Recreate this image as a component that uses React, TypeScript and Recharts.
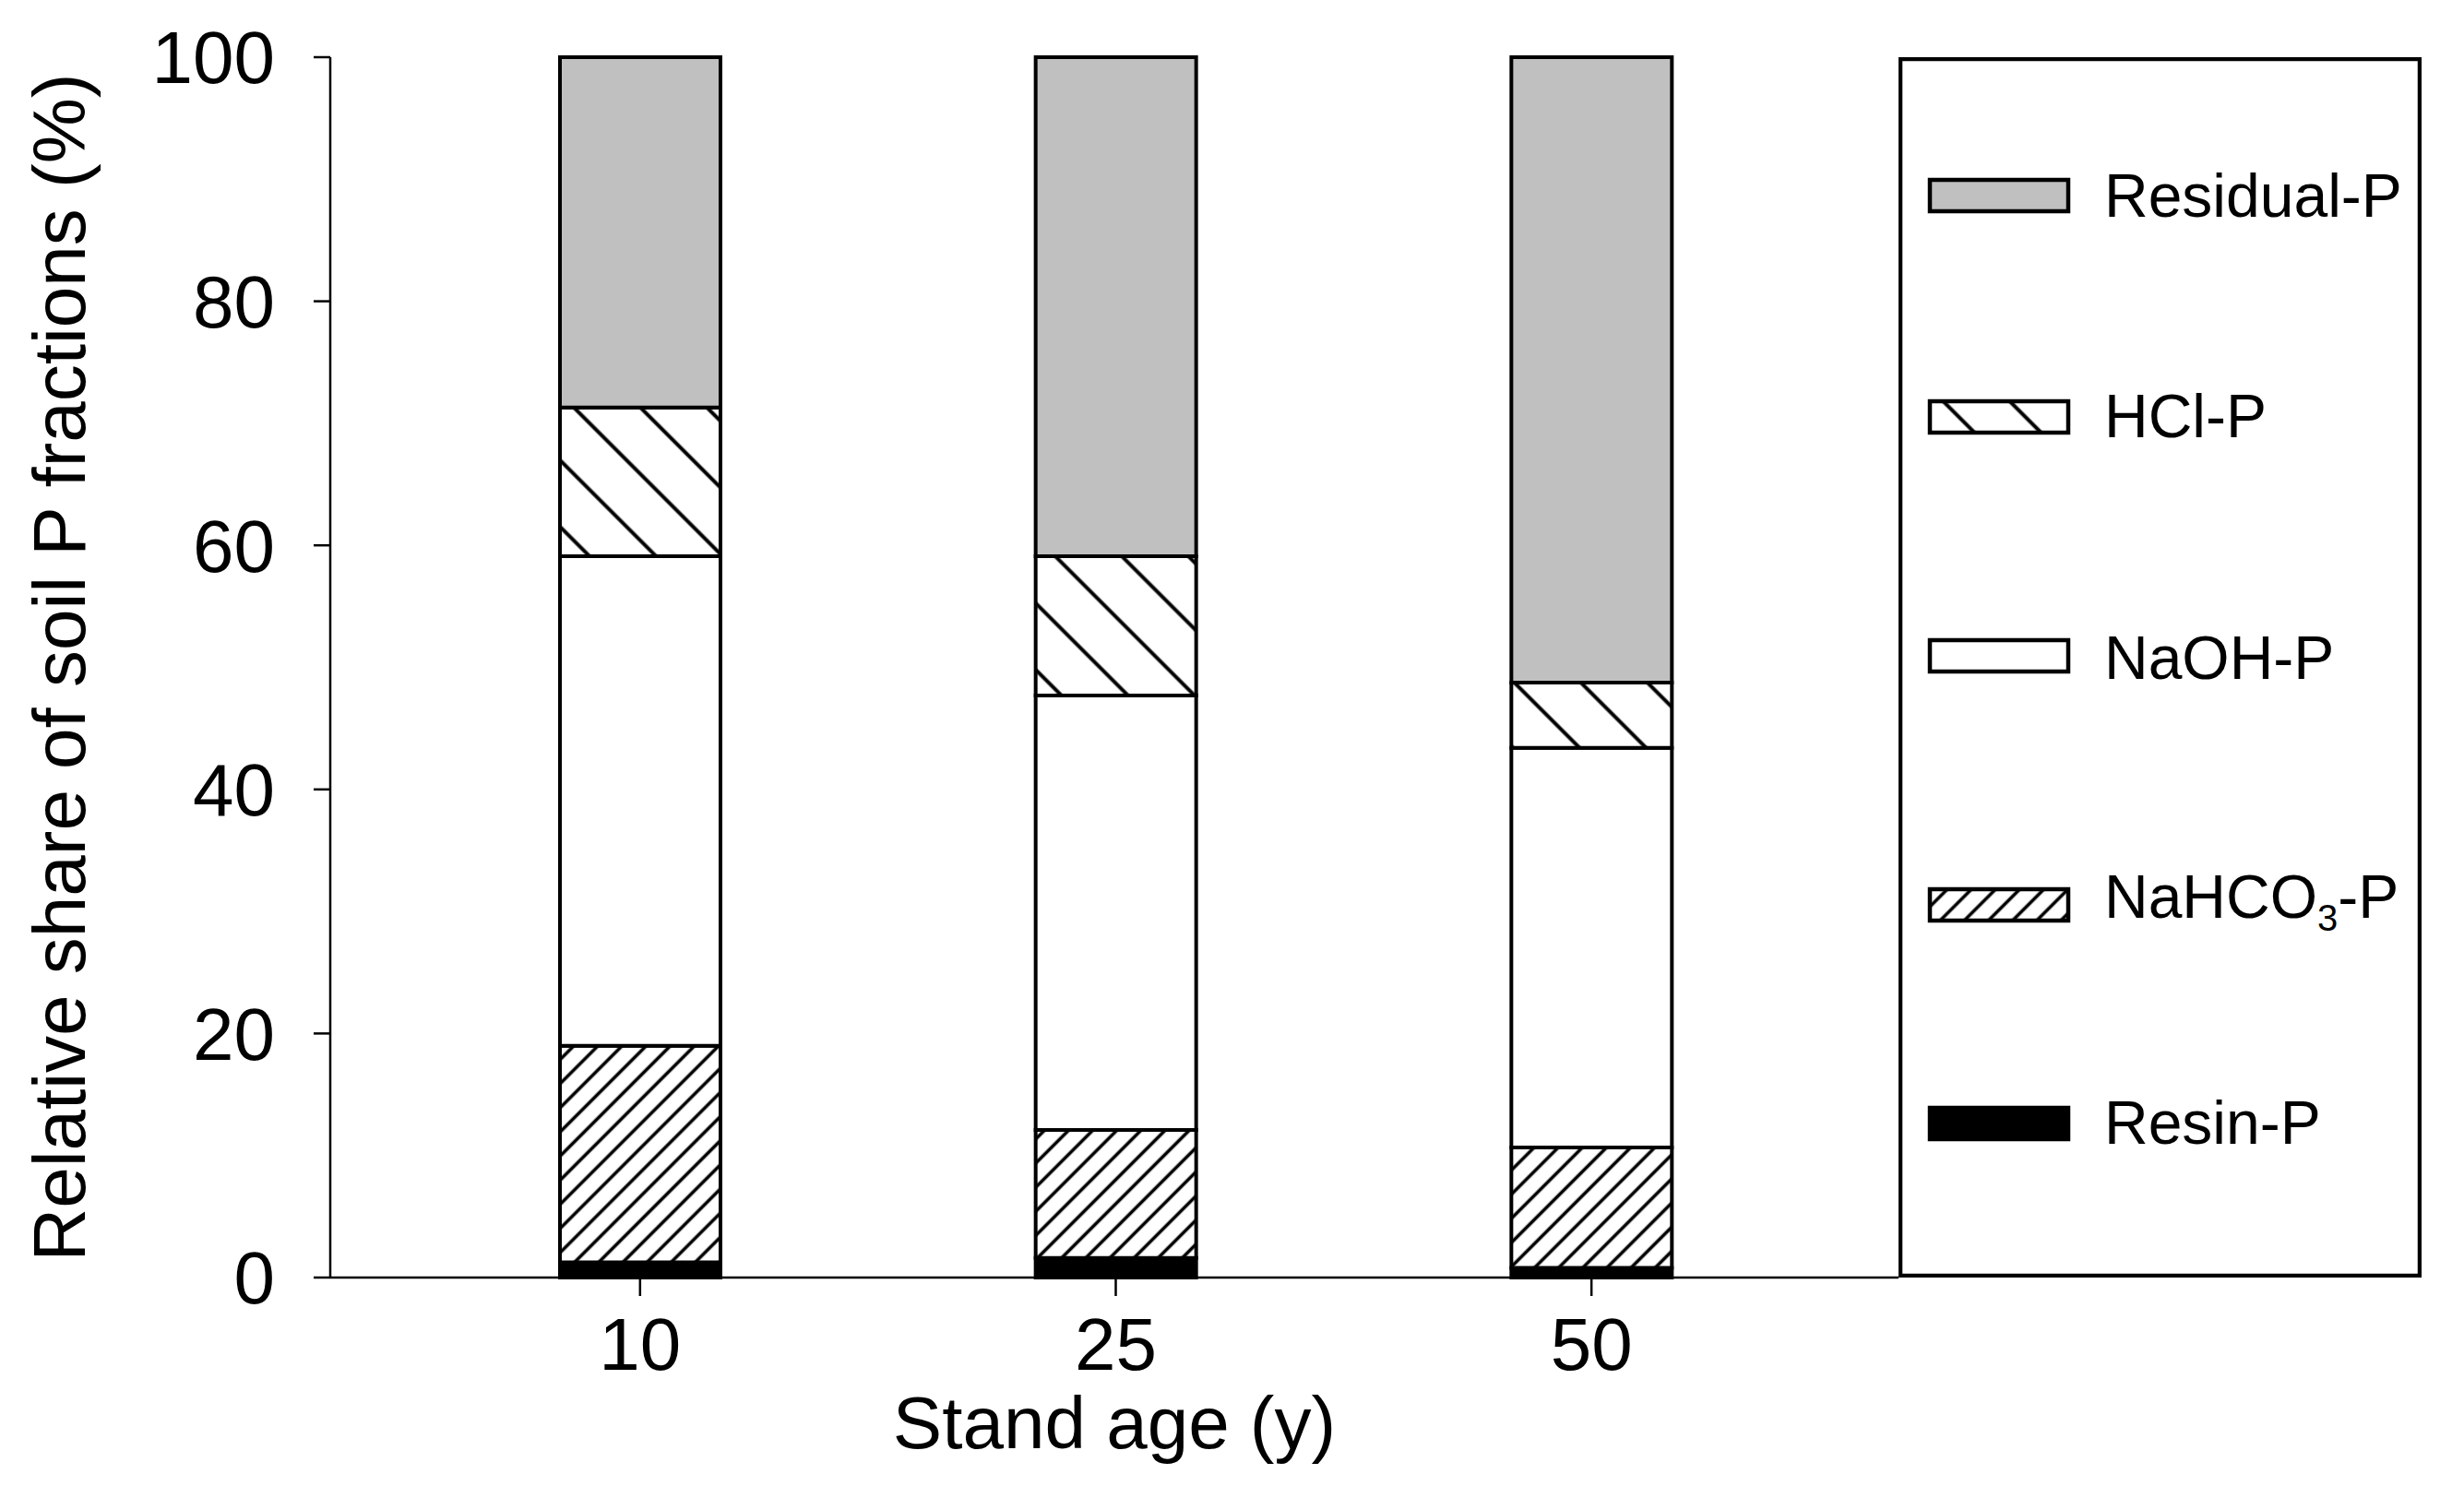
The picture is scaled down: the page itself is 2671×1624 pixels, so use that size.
import React from 'react';
import { BarChart, Bar, XAxis, YAxis, Legend } from 'recharts';

// stand ages (categories) and the five P fractions, stacked bottom -> top
const ages = ['10', '25', '50'];
const resinP = [1.25, 1.6, 0.8];
const nahco3P = [17.75, 10.5, 9.85];
const naohP = [40.1, 35.6, 32.75];
const hclP = [12.2, 11.4, 5.35];
const residualP = [28.7, 40.9, 51.25];
const yTicks = [0, 20, 40, 60, 80, 100];

const FONT = "Arial, 'Liberation Sans', Helvetica, sans-serif";

const series = [
    { key: 'resin', name: 'Resin-P', values: resinP, fill: '#000000' },
    { key: 'nahco3', name: 'NaHCO3-P', values: nahco3P, fill: 'url(#hatchNahco3)' },
    { key: 'naoh', name: 'NaOH-P', values: naohP, fill: '#ffffff' },
    { key: 'hcl', name: 'HCl-P', values: hclP, fill: 'url(#hatchHcl)' },
    { key: 'residual', name: 'Residual-P', values: residualP, fill: '#c0c0c0' },
];

const data = ages.map((age, i) => {
    const row: any = { age };
    series.forEach((s) => { row[s.key] = s.values[i]; });
    return row;
});

// legend box layout (px, relative to the box)
const LEG_W = 567;
const LEG_H = 1323;
const legendRows = [
    { key: 'residual', center: 150, base: 173 },
    { key: 'hcl', center: 390, base: 412 },
    { key: 'naoh', center: 649, base: 674 },
    { key: 'nahco3', center: 919, base: 933 },
    { key: 'resin', center: 1156, base: 1178 },
];

const renderLegend = () => (
    <svg width={LEG_W} height={LEG_H} style={{ display: 'block' }}>
        <rect x={2} y={2} width={LEG_W - 4} height={LEG_H - 4} fill="#fff" stroke="#000" strokeWidth={4.5} />
        {legendRows.map((r) => {
            const s = series.find((x) => x.key === r.key)!;
            return (
                <g key={r.key}>
                    <rect x={34} y={r.center - 17} width={150} height={34} fill={s.fill} stroke="#000" strokeWidth={4.5} />
                    <text x={223} y={r.base} fontSize={66} fontFamily={FONT} fill="#000">
                        {s.key === 'nahco3' ? (
                            <>
                                NaHCO
                                <tspan fontSize={40} dy={14}>3</tspan>
                                <tspan dy={-14}>-P</tspan>
                            </>
                        ) : s.name}
                    </text>
                </g>
            );
        })}
    </svg>
);

const renderYLabel = (props: any) => {
    const vb = props.viewBox || {};
    const cx = 84;
    const cy = (vb.y ?? 54) + (vb.height ?? 1323) / 2;
    return (
        <text x={cx} y={cy} transform={`rotate(-90 ${cx} ${cy})`} textAnchor="middle"
            fontSize={80} fontFamily={FONT} fill="#000">
            Relative share of soil P fractions (%)
        </text>
    );
};

const renderXLabel = (props: any) => {
    const vb = props.viewBox || {};
    const cx = (vb.x ?? 350) + (vb.width ?? 1700) / 2;
    const cy = (vb.y ?? 1377) + 185;
    return (
        <text x={cx} y={cy} textAnchor="middle" fontSize={80} fontFamily={FONT} fill="#000">
            Stand age (y)
        </text>
    );
};

const axisStroke = { stroke: '#000', strokeWidth: 2.5 };
const tickStyle = { fill: '#000', fontSize: 80, fontFamily: FONT };

export default function App() {
    return (
        <div style={{ position: 'relative' }}>
            <svg width={0} height={0} style={{ position: 'absolute' }}>
                <defs>
                    <pattern id="hatchNahco3" patternUnits="userSpaceOnUse" width={18.5} height={18.5} patternTransform="rotate(45)">
                        <rect width={18.5} height={18.5} fill="#fff" />
                        <line x1={9.25} y1={0} x2={9.25} y2={18.5} stroke="#000" strokeWidth={3.6} />
                    </pattern>
                    <pattern id="hatchHcl" patternUnits="userSpaceOnUse" width={51} height={51} patternTransform="rotate(-45)">
                        <rect width={51} height={51} fill="#fff" />
                        <line x1={25.5} y1={0} x2={25.5} y2={51} stroke="#000" strokeWidth={4} />
                    </pattern>
                </defs>
            </svg>
            <BarChart
                width={2655}
                height={1608}
                data={data}
                margin={{ top: 54, right: 38, bottom: 31, left: 0 }}
                barSize={174}
            >
                <XAxis
                    dataKey="age"
                    padding={{ left: 78, right: 75 }}
                    height={200}
                    tickSize={20}
                    tickMargin={23}
                    axisLine={axisStroke}
                    tickLine={axisStroke}
                    tick={tickStyle}
                    label={renderXLabel}
                />
                <XAxis
                    xAxisId="top"
                    orientation="top"
                    dataKey="age"
                    padding={{ left: 78, right: 75 }}
                    height={0}
                    tick={false}
                    tickLine={false}
                    axisLine={axisStroke}
                />
                <YAxis
                    type="number"
                    domain={[0, 100]}
                    ticks={yTicks}
                    interval={0}
                    width={350}
                    tickSize={18}
                    tickMargin={42}
                    axisLine={axisStroke}
                    tickLine={axisStroke}
                    tick={tickStyle}
                    label={renderYLabel}
                />
                <Legend layout="vertical" align="right" verticalAlign="top" content={renderLegend} />
                {series.map((s) => (
                    <Bar
                        key={s.key}
                        dataKey={s.key}
                        name={s.name}
                        stackId="p"
                        fill={s.fill}
                        stroke="#000"
                        strokeWidth={4}
                        isAnimationActive={false}
                    />
                ))}
            </BarChart>
        </div>
    );
}
